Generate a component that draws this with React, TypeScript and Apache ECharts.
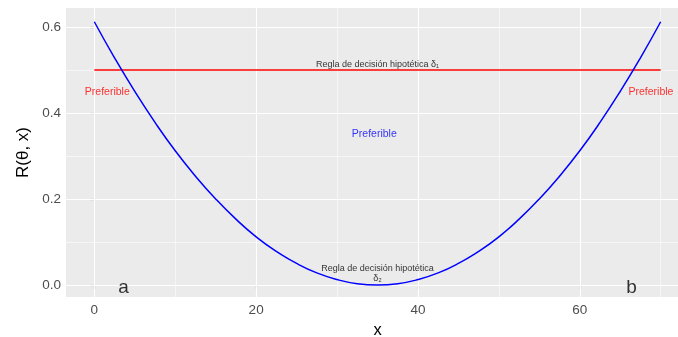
import React, { useEffect, useRef } from "react";
import * as echarts from "echarts";

// Curve of R(θ, x) for δ2
const xValues = [0, 2.5, 5, 7.5, 10, 12.5, 15, 17.5, 20, 22.5, 25, 27.5, 30, 32.5, 35, 37.5, 40, 42.5, 45, 47.5, 50, 52.5, 55, 57.5, 60, 62.5, 65, 67.5, 70];
const riskD2 = [0.612, 0.528, 0.45, 0.378, 0.312, 0.253, 0.2, 0.153, 0.112, 0.078, 0.05, 0.028, 0.0125, 0.003, 0, 0.003, 0.0125, 0.028, 0.05, 0.078, 0.112, 0.153, 0.2, 0.253, 0.312, 0.378, 0.45, 0.528, 0.612];
// Hypothetical rule δ1 (constant)
const d1X = [0, 70];
const riskD1 = [0.5, 0.5];

const xTicks = [0, 20, 40, 60];
const xMinor = [10, 30, 50, 70];
const yTicks = [0, 0.2, 0.4, 0.6];
const yMinor = [0.1, 0.3, 0.5];

const annTexts = ["Regla de decisión hipotética δ₁", "Regla de decisión hipotética\nδ₂", "Preferible", "Preferible", "Preferible", "a", "b"];
const annX = [35, 35, 1.6, 68.8, 34.6, 3.6, 66.4];
const annY = [0.514, 0.028, 0.451, 0.451, 0.353, -0.003, -0.003];

const FONT = "'Liberation Sans', Arial, Helvetica, sans-serif";

export default function App() {
  const ref = useRef<HTMLDivElement>(null);
  useEffect(() => {
    if (!ref.current) return;
    const chart = echarts.init(ref.current, undefined, { renderer: "svg" });
    const annStyles = [
      { color: "#000", fontSize: 9 },
      { color: "#000", fontSize: 9, lineHeight: 10 },
      { color: "#FF0000", fontSize: 10.5 },
      { color: "#FF0000", fontSize: 10.5 },
      { color: "#0000FF", fontSize: 10.5 },
      { color: "#000", fontSize: 19 },
      { color: "#000", fontSize: 19 },
    ];
    const gridLines = [
      ...xTicks.map((v) => ({ xAxis: v, lineStyle: { color: "#fff", width: 1.1, type: "solid" } })),
      ...xMinor.map((v) => ({ xAxis: v, lineStyle: { color: "#fff", width: 0.55, type: "solid" } })),
      ...yTicks.map((v) => ({ yAxis: v, lineStyle: { color: "#fff", width: 1.1, type: "solid" } })),
      ...yMinor.map((v) => ({ yAxis: v, lineStyle: { color: "#fff", width: 0.55, type: "solid" } })),
    ];
    chart.setOption({
      animation: false,
      textStyle: { fontFamily: FONT },
      grid: {
        left: 66,
        right: -11,
        top: 8,
        bottom: 40,
        show: true,
        backgroundColor: "#EBEBEB",
        borderWidth: 0,
        outerBoundsMode: "none",
        containLabel: false,
      },
      xAxis: {
        type: "value",
        min: -3.5,
        max: 73.5,
        name: "x",
        nameLocation: "middle",
        nameGap: 23,
        nameTextStyle: { fontSize: 16.5, lineHeight: 14, color: "#000", fontFamily: FONT },
        axisLine: { show: false },
        axisTick: { show: true, length: 4, lineStyle: { color: "#333", width: 1.1 }, customValues: xTicks },
        axisLabel: { color: "#4D4D4D", fontSize: 13.5, margin: 5, customValues: xTicks, fontFamily: FONT },
        splitLine: { show: false },
      },
      yAxis: {
        type: "value",
        min: -0.028,
        max: 0.644,
        name: "R(θ, x)",
        nameLocation: "middle",
        nameRotate: 90,
        nameGap: 28,
        nameTextStyle: { fontSize: 17, color: "#000", fontFamily: FONT },
        axisLine: { show: false },
        axisTick: { show: true, length: 4, lineStyle: { color: "#333", width: 1.1 }, customValues: yTicks },
        axisLabel: {
          color: "#4D4D4D",
          fontSize: 13.5,
          margin: 5,
          customValues: yTicks,
          fontFamily: FONT,
          formatter: (v: number) => v.toFixed(1),
        },
        splitLine: { show: false },
      },
      series: [
        {
          type: "line",
          data: [],
          z: 1,
          silent: true,
          markLine: {
            silent: true,
            z: 1,
            symbol: ["none", "none"],
            label: { show: false },
            emphasis: { disabled: true },
            data: gridLines,
            animation: false,
          },
        },
        {
          type: "line",
          data: d1X.map((x, i) => [x, riskD1[i]]),
          showSymbol: false,
          lineStyle: { color: "#FF0000", width: 1.5 },
          z: 3,
        },
        {
          type: "line",
          data: xValues.map((x, i) => [x, riskD2[i]]),
          showSymbol: false,
          smooth: true,
          lineStyle: { color: "#0000FF", width: 1.5 },
          z: 4,
        },
        {
          type: "scatter",
          symbolSize: 0,
          z: 5,
          silent: true,
          data: annTexts.map((t, i) => ({
            value: [annX[i], annY[i]],
            label: {
              show: true,
              position: "inside",
              formatter: t,
              fontFamily: FONT,
              align: "center",
              verticalAlign: "middle",
              ...annStyles[i],
            },
          })),
        },
      ],
    });
    return () => chart.dispose();
  }, []);
  return <div ref={ref} style={{ position: "fixed", left: 0, top: 0, width: 678, height: 337 }} />;
}
